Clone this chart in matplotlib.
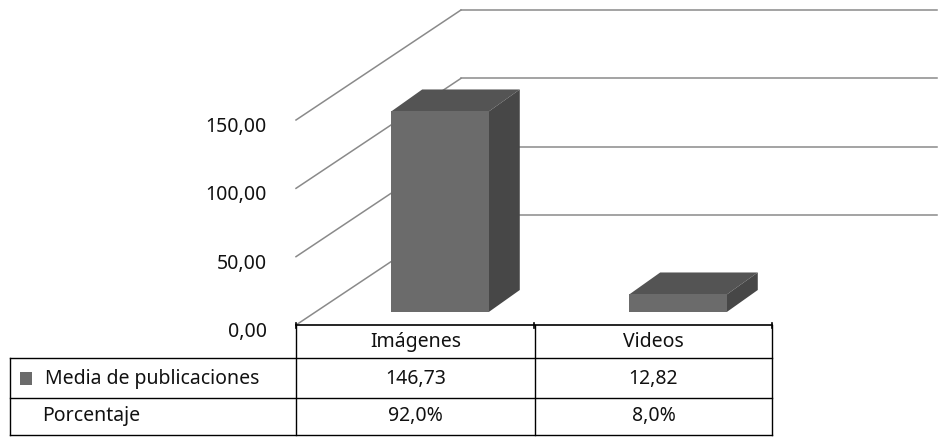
import matplotlib
matplotlib.use("Agg")
import matplotlib.pyplot as plt
from matplotlib.patches import Polygon, Rectangle
from matplotlib.transforms import offset_copy
from matplotlib import font_manager

plt.rcParams['font.family'] = ['Noto Sans', 'DejaVu Sans']
semi = any(f.name == 'Noto Sans' and f.stretch in ('semi-condensed', 600 - 100, 'SemiCondensed')
           for f in font_manager.fontManager.ttflist)
if semi:
    plt.rcParams['font.stretch'] = 'semi-condensed'
    fs = 15.3
else:
    fs = 14

# ---- data ----
categories = ["Imágenes", "Videos"]
media = [146.73, 12.82]
media_labels = ["146,73", "12,82"]
porcentaje_labels = ["92,0%", "8,0%"]
row_names = ["Media de publicaciones", "Porcentaje"]
yticks = [0, 50, 100, 150]
ytick_labels = ["0,00", "50,00", "100,00", "150,00"]

W, H = 938, 445
fig = plt.figure(figsize=(W / 100, H / 100), dpi=100)

# overlay axes in pixel coordinates for the table
ov = fig.add_axes([0, 0, 1, 1])
ov.set_xlim(0, W)
ov.set_ylim(H, 0)
ov.axis('off')

# main pseudo-3D axes (front plane)
ax = fig.add_axes([296 / W, 120 / H, 476 / W, 205 / H])
ax.set_xlim(0, 2)
ax.set_ylim(0, 150)
ax.axis('off')
ax.patch.set_alpha(0)

px_x = 2 / 476.0      # data units per pixel in x
px_y = 150 / 205.0    # data units per pixel in y
DX, DY = 165 * px_x, 110 * px_y          # wall depth
BSY = 13 * px_y                          # bar front-plane depth
BDX, BDY = 31 * px_x, 22 * px_y          # bar depth

grid_c = '#8a8a8a'
for v in yticks:
    ax.plot([0, DX], [v, v + DY], color=grid_c, lw=1.1, clip_on=False, zorder=1)
    ax.plot([DX, 2 + DX], [v + DY, v + DY], color=grid_c, lw=1.1, clip_on=False, zorder=1)

txt_c = '#111111'

# y tick labels
lab_tr = offset_copy(ax.transData, fig=fig, x=-29, y=-7, units='dots')
for v, s in zip(yticks, ytick_labels):
    ax.text(0, v, s, transform=lab_tr, ha='right', va='center', fontsize=fs, color=txt_c)

# bars
xs = [i + 0.605 for i in range(len(categories))]
bars = ax.bar(xs, media, width=0.41, bottom=BSY, color='#6b6b6b', zorder=5, clip_on=False)
for r in bars.patches:
    x0, y0, w, h = r.get_x(), r.get_y(), r.get_width(), r.get_height()
    top = Polygon([(x0, y0 + h), (x0 + w, y0 + h), (x0 + w + BDX, y0 + h + BDY), (x0 + BDX, y0 + h + BDY)],
                  closed=True, facecolor='#545454', edgecolor='none', zorder=4, clip_on=False)
    side = Polygon([(x0 + w, y0), (x0 + w, y0 + h), (x0 + w + BDX, y0 + h + BDY), (x0 + w + BDX, y0 + BDY)],
                   closed=True, facecolor='#474747', edgecolor='none', zorder=4, clip_on=False)
    ax.add_patch(top)
    ax.add_patch(side)

# front axis line with ticks
ax.plot([0, 2], [0, 0], color='black', lw=1.2, clip_on=False, zorder=6)
for t in range(len(categories) + 1):
    ax.plot([t, t], [-3 * px_y, 2 * px_y], color='black', lw=1.2, clip_on=False, zorder=6)

# ---- table ----
lc = 'black'
lw = 1.0
col_x = [296, 535, 772]
for x in col_x:
    ov.plot([x, x], [325, 435], color=lc, lw=lw)
ov.plot([10, 10], [358, 435], color=lc, lw=lw)
for y in [358, 398, 435]:
    ov.plot([10, 772], [y, y], color=lc, lw=lw)

centers = [(col_x[i] + col_x[i + 1]) / 2 for i in range(len(categories))]
for cx, c in zip(centers, categories):
    ov.text(cx, 342, c, ha='center', va='center', fontsize=fs, color=txt_c)
for cx, s in zip(centers, media_labels):
    ov.text(cx, 379, s, ha='center', va='center', fontsize=fs, color=txt_c)
for cx, s in zip(centers, porcentaje_labels):
    ov.text(cx, 416, s, ha='center', va='center', fontsize=fs, color=txt_c)
ov.add_patch(Rectangle((20, 372), 12, 13, facecolor='#6b6b6b', edgecolor='none'))
ov.text(45, 379, row_names[0], ha='left', va='center', fontsize=fs, color=txt_c)
ov.text(42, 416, row_names[1], ha='left', va='center', fontsize=fs, color=txt_c)

fig.savefig('out.png', dpi=100)
